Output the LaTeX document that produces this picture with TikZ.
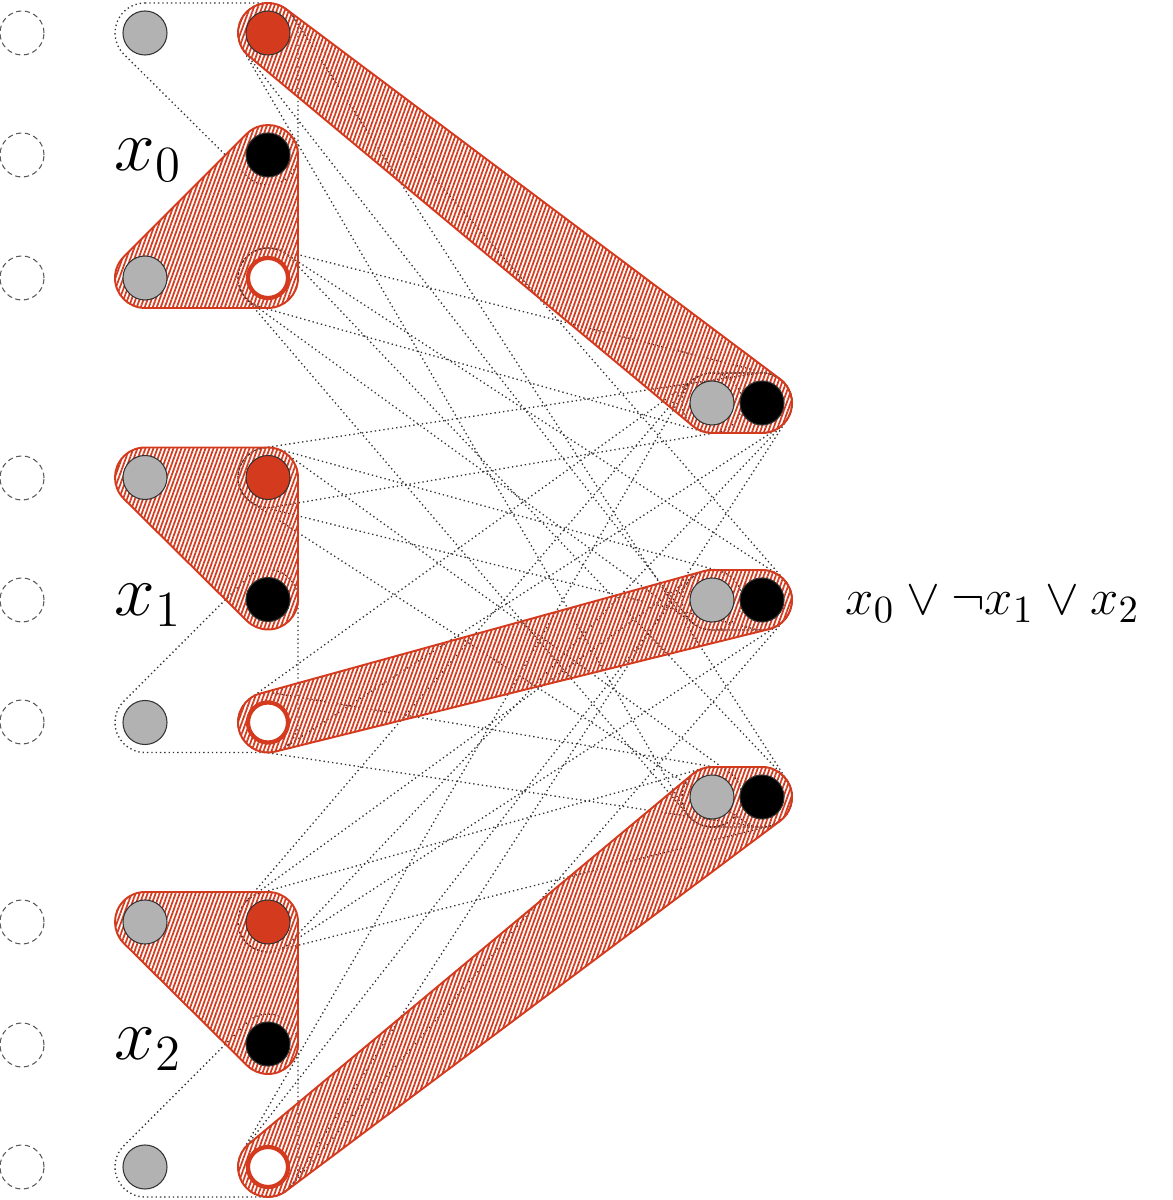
\documentclass[tikz,border=0pt]{standalone}
\usepackage{amsmath}
\usepackage{amssymb}
\usetikzlibrary{calc,backgrounds,patterns.meta}

\definecolor{litred}{RGB}{212,58,30}
\definecolor{nodegray}{RGB}{178,178,178}

\newcommand{\hullrad}{30}
% hull round three nodes, given clockwise
\newcommand{\hull}[4]{%
  \path[#1] let \p1=(#2), \p2=(#3), \p3=(#4),
      \n1={atan2(\y2-\y1,\x2-\x1)},
      \n2={atan2(\y3-\y2,\x3-\x2)},
      \n3={atan2(\y1-\y3,\x1-\x3)} in
    ($(\p1)+(\n1+90:\hullrad)$) -- ($(\p2)+(\n1+90:\hullrad)$)
    arc[start angle=\n1+90, delta angle={-Mod(\n1-\n2,360)}, radius=\hullrad]
    -- ($(\p3)+(\n2+90:\hullrad)$)
    arc[start angle=\n2+90, delta angle={-Mod(\n2-\n3,360)}, radius=\hullrad]
    -- ($(\p1)+(\n3+90:\hullrad)$)
    arc[start angle=\n3+90, delta angle={-Mod(\n3-\n1,360)}, radius=\hullrad]
    -- cycle;}

\begin{document}
\begin{tikzpicture}[x=0.01cm, y=0.01cm,
    lit/.style={circle, inner sep=0pt, minimum size=0.44cm, draw=black!80, line width=0.3pt},
    greynode/.style={lit, fill=nodegray},
    truenode/.style={lit, fill=litred},
    setnode/.style={lit, fill=black},
    falsenode/.style={lit, fill=white, draw=litred, line width=1.2pt, minimum size=0.4cm},
    slot/.style={circle, inner sep=0pt, minimum size=0.44cm, draw=black!65, line width=0.3pt, dash pattern=on 1.5pt off 1pt},
    openhull/.style={draw=black!80, line width=0.38pt, dash pattern=on 0.38pt off 0.85pt},
    pickhull/.style={draw=litred, line width=0.55pt, pattern={Lines[angle=70, distance=1.07pt, line width=0.5pt]}, pattern color=litred},
    label/.style={font=\fontsize{21}{25}\selectfont, inner sep=0pt, anchor=base west}]
    \useasboundingbox (0,0) rectangle (1173,1200);

    % empty slots
    \foreach \y [count=\k] in {1167,1045,922,722,600,478,278,155,33}
        \node[slot] (d\k) at (22,\y) {};

    % variable gadgets
    \foreach \i in {0,1,2} {
        \pgfmathsetmacro{\rowy}{1167-444.5*\i}
        \node[greynode] (a\i) at (145,\rowy) {};
        \node[truenode] (t\i) at (268,\rowy) {};
        \node[setnode] (m\i) at (268,\rowy-122) {};
        \node[greynode] (b\i) at (145,\rowy-245) {};
        \node[falsenode] (f\i) at (268,\rowy-245) {};
        \node[label] (x\i) at (114,\rowy-138) {$x_{\i}$};
    }

    % clause slots
    \foreach \j in {1,2,3} {
        \node[greynode] (cg\j) at (712,994-197*\j) {};
        \node[setnode] (cb\j) at (762,994-197*\j) {};
    }
    \node[label, font=\fontsize{15.5}{18}\selectfont] (clause) at (845,585) {$x_0 \vee \neg x_1 \vee x_2$};

    \begin{scope}[on background layer]
        % unused hulls
        \hull{openhull}{a0}{t0}{m0}
        \hull{openhull}{m1}{f1}{b1}
        \hull{openhull}{m2}{f2}{b2}
        \foreach \l/\c in {t0/2,t0/3,f0/1,f0/2,f0/3,t1/1}
            \hull{openhull}{\l}{cb\c}{cg\c};
        \foreach \l/\c in {t1/2,t1/3,f1/1,f1/3,t2/1,t2/2,t2/3,f2/1,f2/2}
            \hull{openhull}{\l}{cg\c}{cb\c};

        % chosen hulls
        \hull{pickhull}{m0}{f0}{b0}
        \hull{pickhull}{a1}{t1}{m1}
        \hull{pickhull}{a2}{t2}{m2}
        \hull{pickhull}{t0}{cb1}{cg1}
        \hull{pickhull}{f1}{cg2}{cb2}
        \hull{pickhull}{f2}{cg3}{cb3}
    \end{scope}
\end{tikzpicture}
\end{document}
